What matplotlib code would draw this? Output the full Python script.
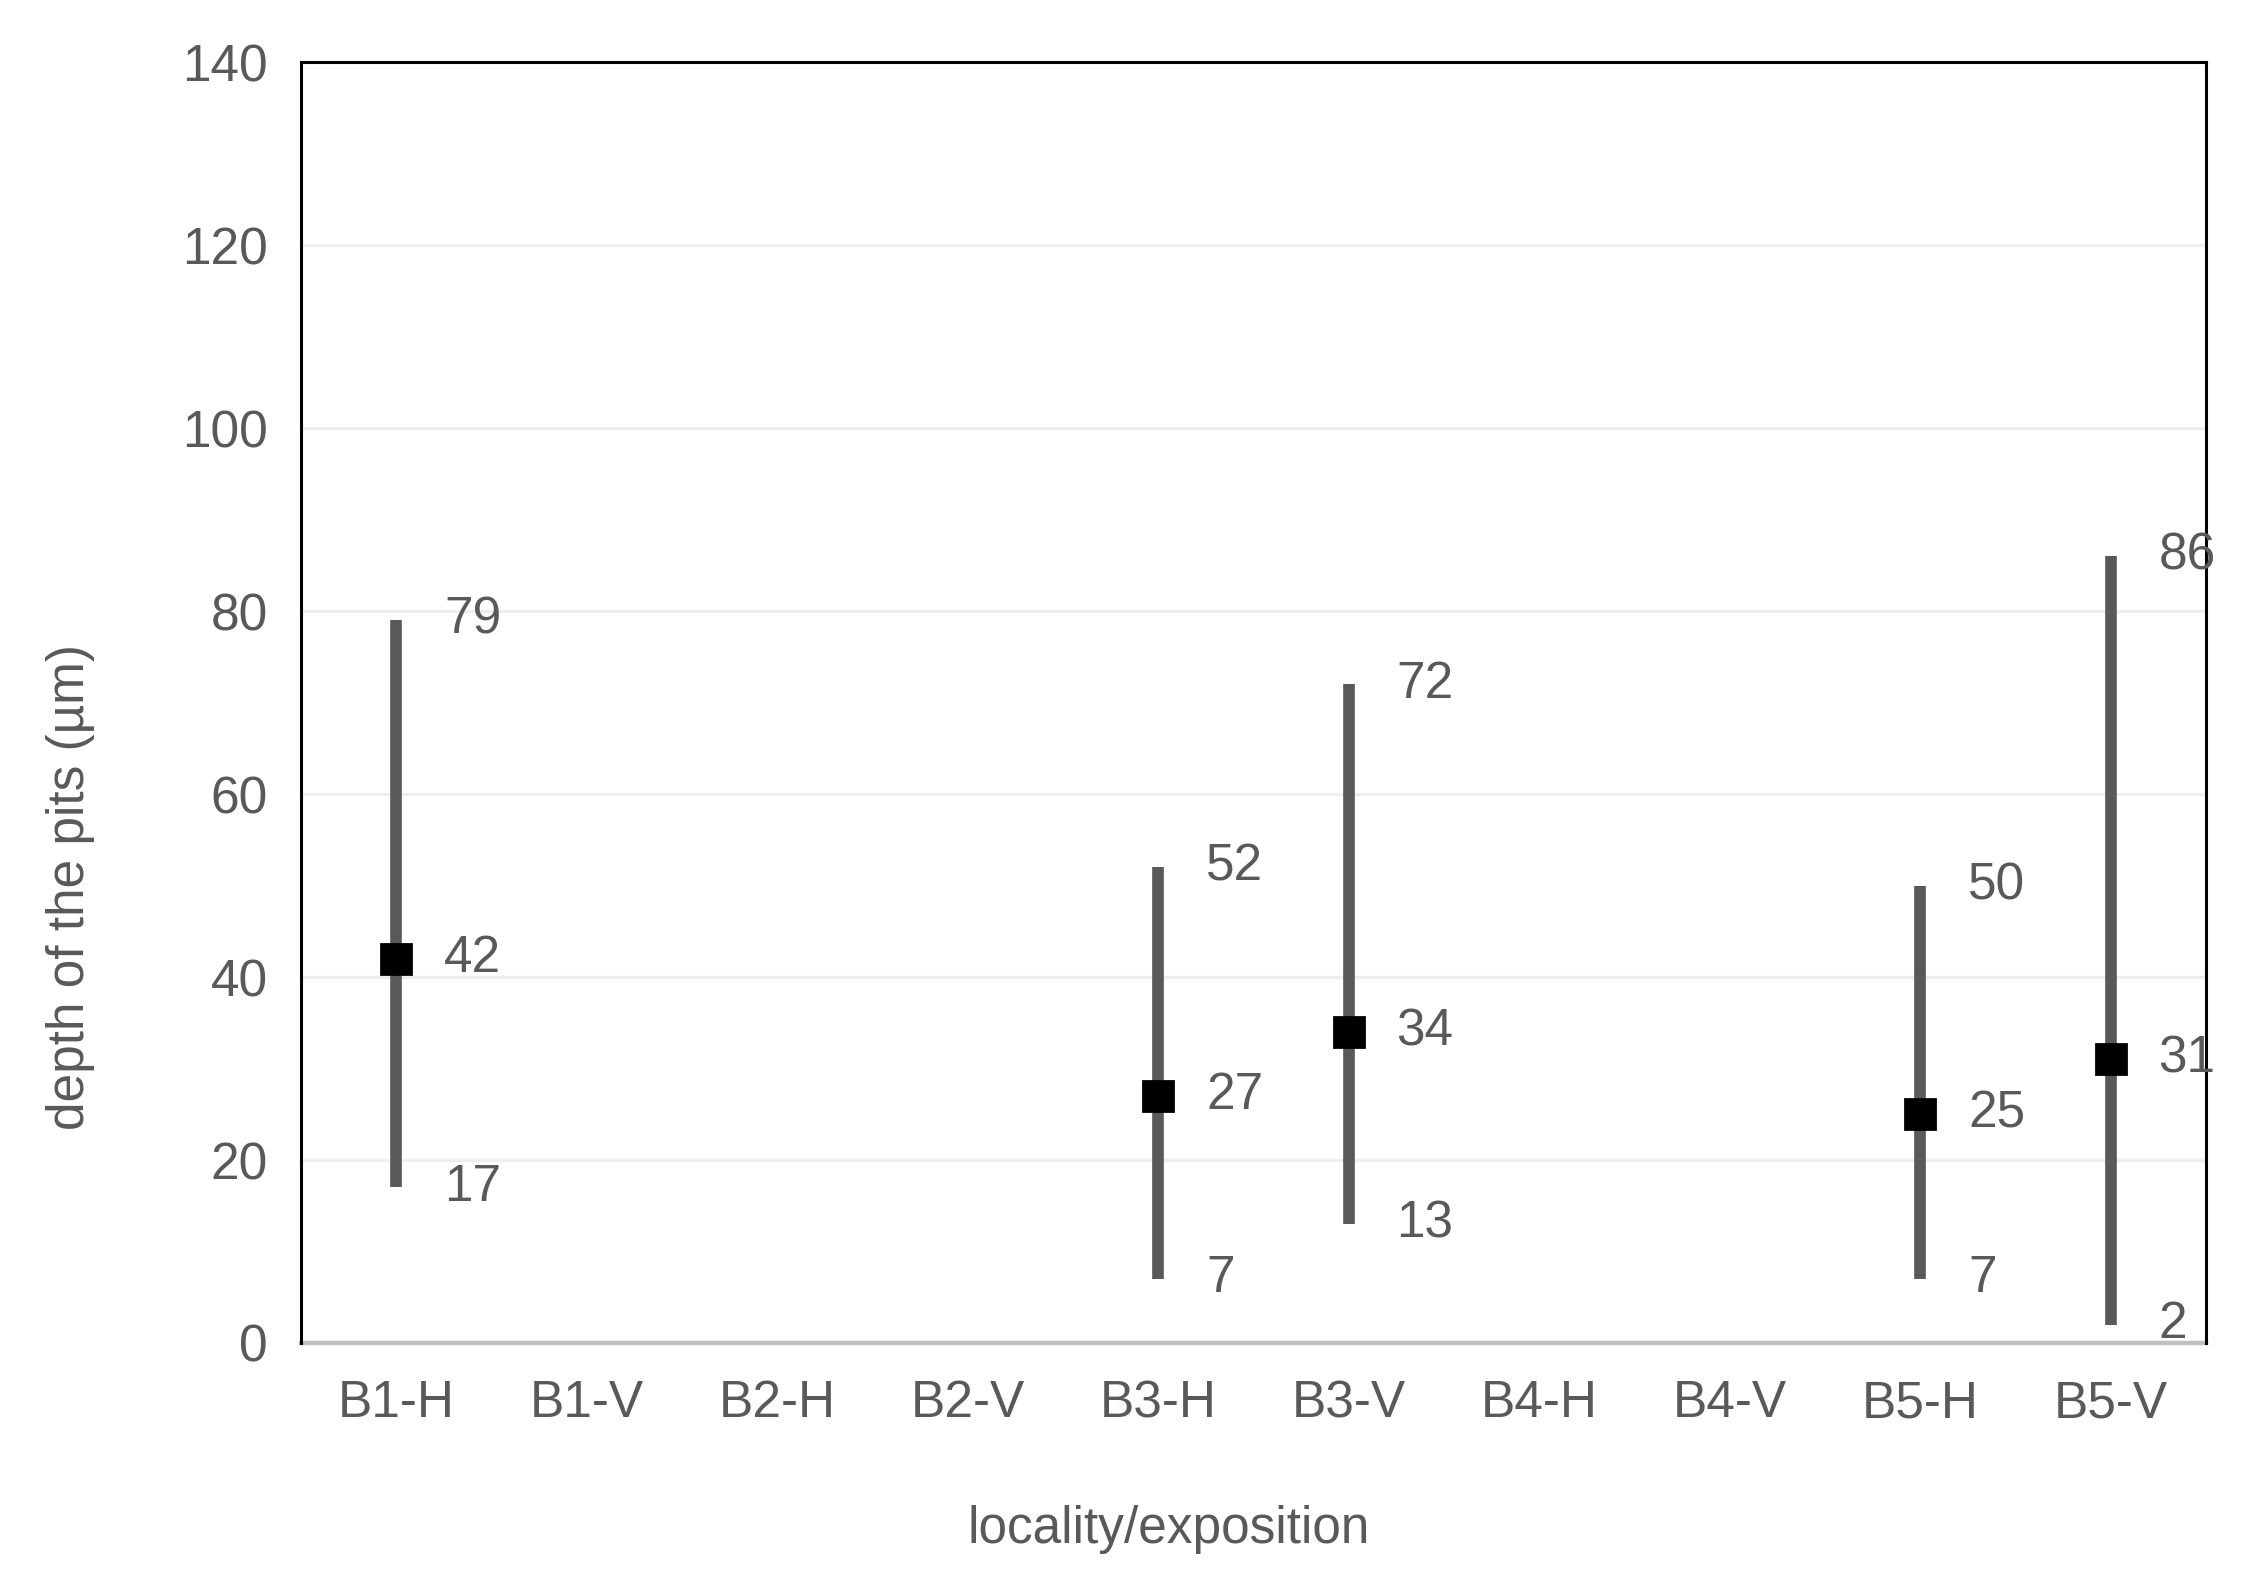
import matplotlib
matplotlib.use("Agg")
import matplotlib.pyplot as plt
import numpy as np

plt.rcParams['font.family'] = ['Liberation Sans', 'DejaVu Sans']

# data
categories = ['B1-H', 'B1-V', 'B2-H', 'B2-V', 'B3-H', 'B3-V', 'B4-H', 'B4-V', 'B5-H', 'B5-V']
depth_max = [79, np.nan, np.nan, np.nan, 52, 72, np.nan, np.nan, 50, 86]
depth_mean = [42, np.nan, np.nan, np.nan, 27, 34, np.nan, np.nan, 25, 31]
depth_min = [17, np.nan, np.nan, np.nan, 7, 13, np.nan, np.nan, 7, 2]

grey = '#595959'

fig = plt.figure(figsize=(11.325, 7.975), dpi=200)
ax = fig.add_axes([0.133, 0.158, 0.841, 0.803])

x = np.arange(len(categories))
mx = np.array(depth_max, dtype=float)
mn = np.array(depth_min, dtype=float)
me = np.array(depth_mean, dtype=float)
ok = ~np.isnan(me)

ax.vlines(x[ok], mn[ok], mx[ok], color=grey, lw=4.2, zorder=3)
ax.plot(x[ok], me[ok], 's', color='black', ms=10.5, zorder=4)

for xi, a, b, c in zip(x[ok], mx[ok], me[ok], mn[ok]):
    for v in (a, b, c):
        ax.text(xi + 0.25, v, '%d' % v, ha='left', va='center',
                fontsize=18.5, color=grey, zorder=5, clip_on=False)

ax.set_xlim(-0.5, 9.5)
ax.set_ylim(0, 140)
ax.set_yticks(np.arange(0, 141, 20))
ax.set_xticks(x)
ax.set_xticklabels(categories)
ax.tick_params(axis='both', length=0, labelsize=18.5, colors=grey)
ax.tick_params(axis='x', pad=13)
ax.tick_params(axis='y', pad=12)

for yv in range(20, 140, 20):
    ax.axhline(yv, color='#eeeeee', lw=1.2, zorder=1)

for s in ('left', 'right', 'top'):
    ax.spines[s].set_color('black')
    ax.spines[s].set_linewidth(1.1)
ax.spines['bottom'].set_color('#bfbfbf')
ax.spines['bottom'].set_linewidth(1.6)
ax.spines['bottom'].set_zorder(2)

fig.text(0.031, 0.444, 'depth of the pits (µm)', rotation=90, ha='center', va='center',
         fontsize=18.5, color=grey)
fig.text(0.516, 0.041, 'locality/exposition', ha='center', va='center',
         fontsize=18.5, color=grey)

fig.savefig('out.png', dpi=200, facecolor='white')
